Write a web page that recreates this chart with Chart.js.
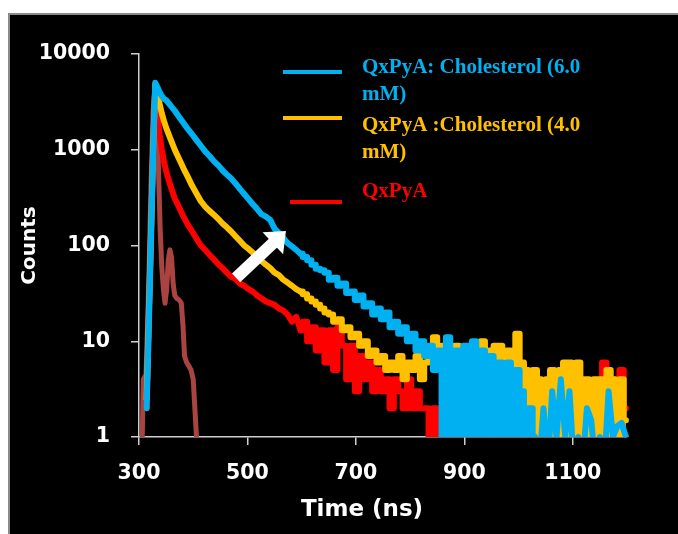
<!DOCTYPE html>
<html>
<head>
<meta charset="utf-8">
<script src="https://cdn.jsdelivr.net/npm/chart.js@4.4.1/dist/chart.umd.min.js"></script>
<style>
html,body{margin:0;padding:0;background:#fff;width:678px;height:534px;overflow:hidden;}
#frame{position:absolute;left:8px;top:13px;right:0;bottom:0;background:#000;border-left:2px solid #8a8a8a;border-top:2px solid #8a8a8a;}
#c{position:absolute;left:0;top:0;}
</style>
</head>
<body>
<div id="frame"></div>
<canvas id="c" width="678" height="534"></canvas>
<script>
// ---- data ----
const timeNs = [306,310,314,318,322,326,330,334,338,342,
  346,350,358,366,374,382,390,398,406,414,
  422,430,438,446,454,462,470,478,486,494,
  502,510,518,526,534,542,550,558,566,574,
  582,590,598,606,614,622,630,638,646,654,
  662,670,678,686,694,702,710,718,726,734,
  742,750,758,766,774,782,790,798,806,814,
  822,830,838,846,854,862,870,878,886,894,
  902,910,918,926,934,942,950,958,966,974,
  982,990,998,1006,1014,1022,1030,1038,1046,1054,
  1062,1070,1078,1086,1094,1102,1110,1118,1126,1134,
  1142,1150,1158,1166,1174,1182,1190,1198];

const chol6Counts = [null,null,2,14,110,900,5000,4500,4000,3650,
  3400,3300,2900,2550,2200,1900,1650,1450,1260,1100,
  960,860,760,690,610,550,500,445,390,345,
  305,270,240,212,200,185,150,135,120,106,
  98,90,82,76,70,63,57,55,52,44,
  46,38,40,32,33,27,30,23,25,19,
  22,17,20,14,16,12,14,10,12,8,
  10,7,9,5,8,1,11,4,8,2,
  9,5,10,3,8,1,7,4,6,2,
  6,1,5,3,0.5,2,1,0.5,2,0.5,
  3,1,4,1,3,0.5,1,0.5,2,1.5,
  0.5,1,0.5,3,1,1.3,1.4,1];

const chol4Counts = [null,null,2.5,18,130,1000,4800,3700,3000,2400,
  2000,1700,1300,1000,800,640,520,420,350,290,
  255,230,210,190,170,155,140,125,112,100,
  92,84,76,69,63,58,52,49,44,41,
  38,35,33,31,28,26,24,22,20,19,
  16,17,13,14,11,12,9,10,7,8,
  6,7,5,6,5,7,4,6,5,7,
  4,6,8,11,7,9,5,8,9,6,
  8,4,7,9,10,6,8,9,9,7,
  8,5,12,6,5,3,5,4,1,4,
  5,3,5,6,6,4,6,3,4,1,
  4,4,3,5,4,3,4,1.5];

const qxpyaCounts = [null,null,2,15,120,900,4500,2400,1450,1000,
  750,600,420,310,250,200,165,140,118,100,
  90,80,72,64,58,52,47,45,40,38,
  35,33,30,28,26,25,24,22,21,19,
  16,18,13,16,10,14,8,13,6,13,
  5,14,9,4,9,3,7,4,6,3,
  5,3,4,2,4,3,2,4,2,3,
  2,2,1,2,1,0.5,1,0.5,2,0.5,
  1,0.5,1,2,0.5,1,0.5,2,1,0.5,
  1,2,0.5,1,2,0.5,1,3,1,2,
  0.5,2,1,3,2,1,2,0.5,2,3,
  1,2,6,3,2,4,5,2];

const irfTimeNs = [305,308,313,318,322,326,330,333,336,339,342,345,348,351,354,357,360,363,366,370,374,378,381,384,388,392,396,400,403,406,409];
const irfCounts = [0.5,4,4.5,40,400,2500,5000,3000,600,150,60,35,25,35,70,90,75,40,30,28,27,25,15,7,6,5.5,5,4,2,1,0.5];

const timeTicks = [300,500,700,900,1100];
const countTicks = [1,10,100,1000,10000];

const seriesLabels = ['QxPyA: Cholesterol (6.0 mM)','QxPyA :Cholesterol (4.0 mM)','QxPyA'];
const legendLines = [['QxPyA: Cholesterol (6.0','mM)'],['QxPyA :Cholesterol (4.0','mM)'],['QxPyA']];
const xAxisTitle = 'Time (ns)';
const yAxisTitle = 'Counts';
// arrow annotation (time, counts)
const arrowFrom = [479, 46];
const arrowTo = [571, 142];

// ---- styles / layout ----
const colors = ['#00B0F0','#FFC000','#FF0000','#A94442'];
const legendLayout = {sampleX1:[283,283,290], sampleX2:342, sampleY:[72,118,202], textX:362, baselines:[[73,100],[131,158],[197]]};
const tickFont = {family:'"DejaVu Sans", sans-serif', weight:'bold', size:20.5};
const last = timeNs.length - 1;
// per series: index ranges of timeNs and how each piece is drawn
const pieces = [
  [{r:[0,42]}, {r:[42,75], step:true}, {r:[75,96], step:true, fill:true}, {r:[96,last]}],
  [{r:[0,42]}, {r:[42,75], step:true}, {r:[75,last], step:true, fill:true}],
  [{r:[0,42]}, {r:[42,last], step:true}]
];

function pts(xs, ys, seg){
  const out = [];
  for (let i = seg[0]; i <= seg[1]; i++) out.push({x:xs[i], y:ys[i]});
  return out;
}

const overlay = {
  id:'overlay',
  afterDatasetsDraw(chart){
    const {ctx, scales:{x, y}} = chart;
    const x0 = x.getPixelForValue(arrowFrom[0]), y0 = y.getPixelForValue(arrowFrom[1]);
    const x1 = x.getPixelForValue(arrowTo[0]), y1 = y.getPixelForValue(arrowTo[1]);
    const a = Math.atan2(y1-y0, x1-x0);
    const headLen = 18, headHalf = 15;
    const bx = x1 - headLen*Math.cos(a), by = y1 - headLen*Math.sin(a);
    ctx.save();
    ctx.strokeStyle = '#fff'; ctx.fillStyle = '#fff';
    ctx.lineWidth = 12; ctx.lineCap = 'butt';
    ctx.beginPath(); ctx.moveTo(x0,y0); ctx.lineTo(bx+Math.cos(a),by+Math.sin(a)); ctx.stroke();
    ctx.beginPath(); ctx.moveTo(x1,y1);
    ctx.lineTo(bx + headHalf*Math.sin(a), by - headHalf*Math.cos(a));
    ctx.lineTo(bx - headHalf*Math.sin(a), by + headHalf*Math.cos(a));
    ctx.closePath(); ctx.fill();
    ctx.restore();
  },
  afterDraw(chart){
    const ctx = chart.ctx;
    ctx.save();
    legendLines.forEach((lines,i)=>{
      ctx.strokeStyle = colors[i]; ctx.lineWidth = 4; ctx.lineCap = 'butt';
      ctx.beginPath();
      ctx.moveTo(legendLayout.sampleX1[i], legendLayout.sampleY[i]);
      ctx.lineTo(legendLayout.sampleX2, legendLayout.sampleY[i]);
      ctx.stroke();
      ctx.fillStyle = colors[i];
      ctx.font = 'bold 21px "Liberation Serif", "Times New Roman", serif';
      ctx.textAlign = 'left'; ctx.textBaseline = 'alphabetic';
      lines.forEach((ln,j)=> ctx.fillText(ln, legendLayout.textX, legendLayout.baselines[i][j]));
    });
    ctx.fillStyle = '#fff';
    ctx.font = 'bold 23px "DejaVu Sans", sans-serif';
    ctx.textAlign = 'center'; ctx.textBaseline = 'middle';
    ctx.fillText(xAxisTitle, 362, 510);
    ctx.restore();
  }
};

const baseStyle = {borderWidth:6, pointRadius:0, tension:0, borderJoinStyle:'round', borderCapStyle:'round', fill:false, clip:{left:6,top:6,right:6,bottom:0}};
const series = [chol6Counts, chol4Counts, qxpyaCounts];
const datasets = [];
series.forEach((ys,i)=>{
  pieces[i].forEach(p=>{
    datasets.push(Object.assign({label:seriesLabels[i], data:pts(timeNs, ys, p.r), borderColor:colors[i], backgroundColor:colors[i]}, baseStyle,
      {stepped: p.step ? 'middle' : false, fill: p.fill ? 'start' : false}));
  });
});
datasets.push(Object.assign({label:'IRF', data:irfTimeNs.map((t,k)=>({x:t, y:irfCounts[k]})), borderColor:colors[3]}, baseStyle, {borderWidth:5}));

new Chart(document.getElementById('c'), {
  type:'line',
  data:{datasets:datasets},
  options:{
    responsive:false, animation:false, devicePixelRatio:1,
    layout:{padding:{left:0, top:54, right:51, bottom:0}},
    plugins:{legend:{display:false}, tooltip:{enabled:false}, filler:{propagate:false}},
    scales:{
      x:{
        type:'linear', min:300, max:1200,
        afterBuildTicks:(s)=>{ s.ticks = timeTicks.map(v=>({value:v})); },
        afterFit:(s)=>{ s.height = 97; },
        border:{display:true, color:'#cfcfcf', width:1.5},
        grid:{display:true, drawOnChartArea:false, drawTicks:true, tickLength:8, color:'#cfcfcf', lineWidth:1.5},
        ticks:{color:'#fff', font:tickFont, padding:16, maxRotation:0, autoSkip:false, callback:(v)=>String(v)}
      },
      y:{
        type:'logarithmic', min:1, max:10000,
        afterBuildTicks:(s)=>{ s.ticks = countTicks.map(v=>({value:v})); },
        afterFit:(s)=>{ s.width = 139; },
        border:{display:true, color:'#cfcfcf', width:1.5},
        grid:{display:true, drawOnChartArea:false, drawTicks:true, tickLength:8, color:'#cfcfcf', lineWidth:1.5},
        ticks:{color:'#fff', font:tickFont, padding:21, autoSkip:false, callback:(v)=>String(v)},
        title:{display:true, text:yAxisTitle, color:'#fff', font:{family:'"DejaVu Sans", sans-serif', weight:'bold', size:20}, padding:{top:18,bottom:0}}
      }
    }
  },
  plugins:[overlay]
});
</script>
</body>
</html>
